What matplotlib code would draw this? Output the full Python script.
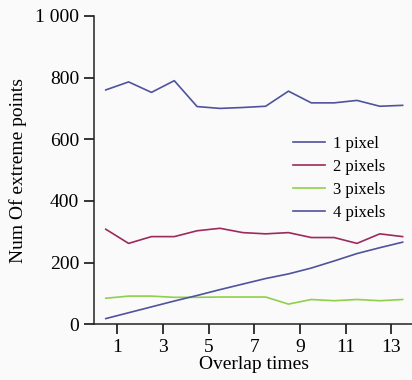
import matplotlib
matplotlib.use('Agg')
import matplotlib.pyplot as plt

# Datos
overlap = [0.5, 1.5, 2.5, 3.5, 4.5, 5.5, 6.5, 7.5, 8.5, 9.5, 10.5, 11.5, 12.5, 13.5]

pixel1 = [760, 786, 752, 790, 706, 700, 703, 707, 756, 718, 718, 726, 707, 710]
pixel2 = [308, 262, 284, 284, 303, 311, 297, 293, 297, 281, 281, 262, 293, 284]
pixel3 = [84, 91, 91, 87, 87, 88, 88, 88, 65, 80, 76, 80, 76, 80]
pixel4 = [18, 37, 56, 75, 93, 112, 130, 148, 163, 182, 205, 229, 248, 266]

labels = ['1 pixel', '2 pixels', '3 pixels', '4 pixels']
colors = ['#4f539c', '#9c2a5c', '#8fd04a', '#4f539c']

x_ticks = [1, 3, 5, 7, 9, 11, 13]
y_ticks = [0, 200, 400, 600, 800, 1000]
y_tick_labels = ['0', '200', '400', '600', '800', '1 000']

plt.rcParams['font.family'] = ['Liberation Serif', 'DejaVu Serif']

fig = plt.figure(figsize=(4.12, 3.80), dpi=100, facecolor='#fafafa')
ax = fig.add_axes([0.229, 0.147, 0.776, 0.811])
ax.set_facecolor('#fafafa')

for ys, lab, col in zip([pixel1, pixel2, pixel3, pixel4], labels, colors):
    ax.plot(overlap, ys, color=col, linewidth=1.2, label=lab)

ax.set_xlim(0, 14)
ax.set_ylim(0, 1000)
ax.set_xticks(x_ticks)
ax.set_yticks(y_ticks)
ax.set_yticklabels(y_tick_labels)
ax.tick_params(direction='out', length=7, width=1.1, labelsize=14, pad=4)

for s in ['top', 'right']:
    ax.spines[s].set_visible(False)
for s in ['left', 'bottom']:
    ax.spines[s].set_linewidth(1.1)
    ax.spines[s].set_color('#222222')

ax.set_xlabel('Overlap times', fontsize=14, labelpad=0)
ax.set_ylabel('Num Of extreme points', fontsize=14, labelpad=6)

ax.legend(loc='upper left', bbox_to_anchor=(0.575, 0.66), frameon=False,
          fontsize=12, handlelength=1.9, handletextpad=0.5, labelspacing=0.42)

fig.savefig('out.png', dpi=100, facecolor=fig.get_facecolor())
